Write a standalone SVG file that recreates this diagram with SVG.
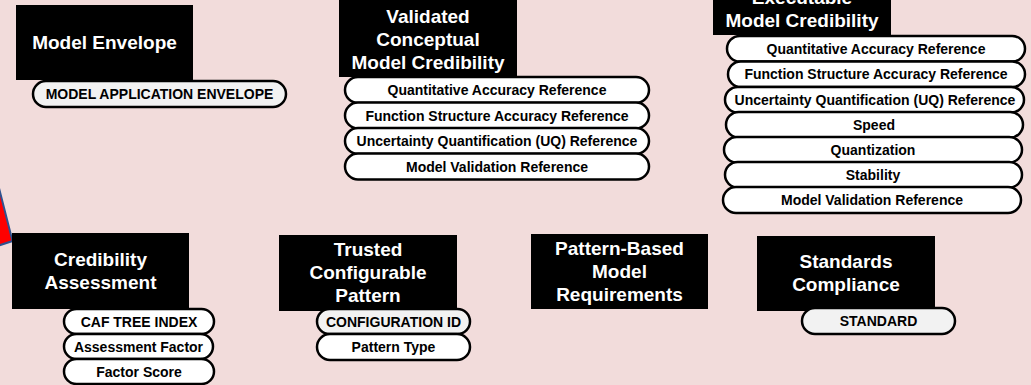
<svg xmlns="http://www.w3.org/2000/svg" width="1031" height="385" viewBox="0 0 1031 385">
<style>
.bg{fill:#f2dcdb}
.box{fill:#000}
.ttl{font-family:"Liberation Sans",Arial,sans-serif;font-weight:bold;font-size:19px;fill:#fff;text-anchor:middle}
.pill{fill:#fff;stroke:#000;stroke-width:2.5}
.key{fill:#f2f2f2}
.pt{font-family:"Liberation Sans",Arial,sans-serif;font-weight:bold;font-size:14px;fill:#000;text-anchor:middle}
.arrow{fill:#ff0000;stroke:#2f528f;stroke-width:2}
</style>
<rect class="bg" x="0" y="0" width="1031" height="385"/>
<g id="connectors">
<polygon class="arrow" points="-12,145 12.5,241 -12,249"/>
</g>
<g id="model-envelope">
<rect class="box" x="16" y="5" width="177" height="75"/>
<text class="ttl" x="104.5" y="49">Model Envelope</text>
<rect class="pill key" x="33" y="81" width="253" height="26" rx="13"/>
<text class="pt" x="159.5" y="99">MODEL APPLICATION ENVELOPE</text>
</g>
<g id="validated-conceptual-model-credibility">
<rect class="box" x="339" y="-1" width="178" height="78"/>
<text class="ttl" x="428" y="23">Validated</text>
<text class="ttl" x="428" y="46">Conceptual</text>
<text class="ttl" x="428" y="69">Model Credibility</text>
<rect class="pill" x="345" y="77" width="304" height="26" rx="13"/>
<text class="pt" x="497" y="95">Quantitative Accuracy Reference</text>
<rect class="pill" x="345" y="102.5" width="304" height="26" rx="13"/>
<text class="pt" x="497" y="120.5">Function Structure Accuracy Reference</text>
<rect class="pill" x="345" y="128" width="304" height="26" rx="13"/>
<text class="pt" x="497" y="146">Uncertainty Quantification (UQ) Reference</text>
<rect class="pill" x="345" y="153.5" width="304" height="26" rx="13"/>
<text class="pt" x="497" y="171.5">Model Validation Reference</text>
</g>
<g id="executable-model-credibility">
<rect class="box" x="713" y="-42" width="178" height="77"/>
<text class="ttl" x="802" y="4">Executable</text>
<text class="ttl" x="802" y="27">Model Credibility</text>
<rect class="pill" x="727" y="36" width="298" height="25.5" rx="12.75"/>
<text class="pt" x="876" y="53.5">Quantitative Accuracy Reference</text>
<rect class="pill" x="728" y="61.5" width="297" height="25.5" rx="12.75"/>
<text class="pt" x="876" y="79">Function Structure Accuracy Reference</text>
<rect class="pill" x="725" y="87" width="299" height="25.5" rx="12.75"/>
<text class="pt" x="875" y="104.5">Uncertainty Quantification (UQ) Reference</text>
<rect class="pill" x="726" y="112" width="297" height="25.5" rx="12.75"/>
<text class="pt" x="874" y="129.5">Speed</text>
<rect class="pill" x="724" y="137" width="298" height="25.5" rx="12.75"/>
<text class="pt" x="873" y="154.5">Quantization</text>
<rect class="pill" x="725" y="162" width="297" height="25.5" rx="12.75"/>
<text class="pt" x="873" y="179.5">Stability</text>
<rect class="pill" x="723" y="187" width="298" height="26" rx="13"/>
<text class="pt" x="872" y="205">Model Validation Reference</text>
</g>
<g id="credibility-assessment">
<rect class="box" x="12" y="233" width="177" height="76"/>
<text class="ttl" x="100.5" y="266">Credibility</text>
<text class="ttl" x="100.5" y="289">Assessment</text>
<rect class="pill" x="64" y="309" width="150" height="25" rx="12.5"/>
<text class="pt" x="139" y="326.5">CAF TREE INDEX</text>
<rect class="pill" x="64" y="334" width="149" height="25" rx="12.5"/>
<text class="pt" x="138.5" y="351.5">Assessment Factor</text>
<rect class="pill" x="64" y="359" width="150" height="25" rx="12.5"/>
<text class="pt" x="139" y="376.5">Factor Score</text>
</g>
<g id="trusted-configurable-pattern">
<rect class="box" x="279" y="235" width="178" height="76"/>
<text class="ttl" x="368" y="256">Trusted</text>
<text class="ttl" x="368" y="279">Configurable</text>
<text class="ttl" x="368" y="302">Pattern</text>
<rect class="pill key" x="317" y="309" width="153" height="25" rx="12.5"/>
<text class="pt" x="393.5" y="326.5">CONFIGURATION ID</text>
<rect class="pill" x="317" y="334" width="153" height="26" rx="13"/>
<text class="pt" x="393.5" y="352">Pattern Type</text>
</g>
<g id="pattern-based-model-requirements">
<rect class="box" x="531" y="234" width="177" height="75"/>
<text class="ttl" x="619.5" y="255">Pattern-Based</text>
<text class="ttl" x="619.5" y="278">Model</text>
<text class="ttl" x="619.5" y="301">Requirements</text>
</g>
<g id="standards-compliance">
<rect class="box" x="757" y="236" width="178" height="75"/>
<text class="ttl" x="846" y="268">Standards</text>
<text class="ttl" x="846" y="291">Compliance</text>
<rect class="pill key" x="802" y="308" width="153" height="26" rx="13"/>
<text class="pt" x="878.5" y="326">STANDARD</text>
</g>
</svg>
